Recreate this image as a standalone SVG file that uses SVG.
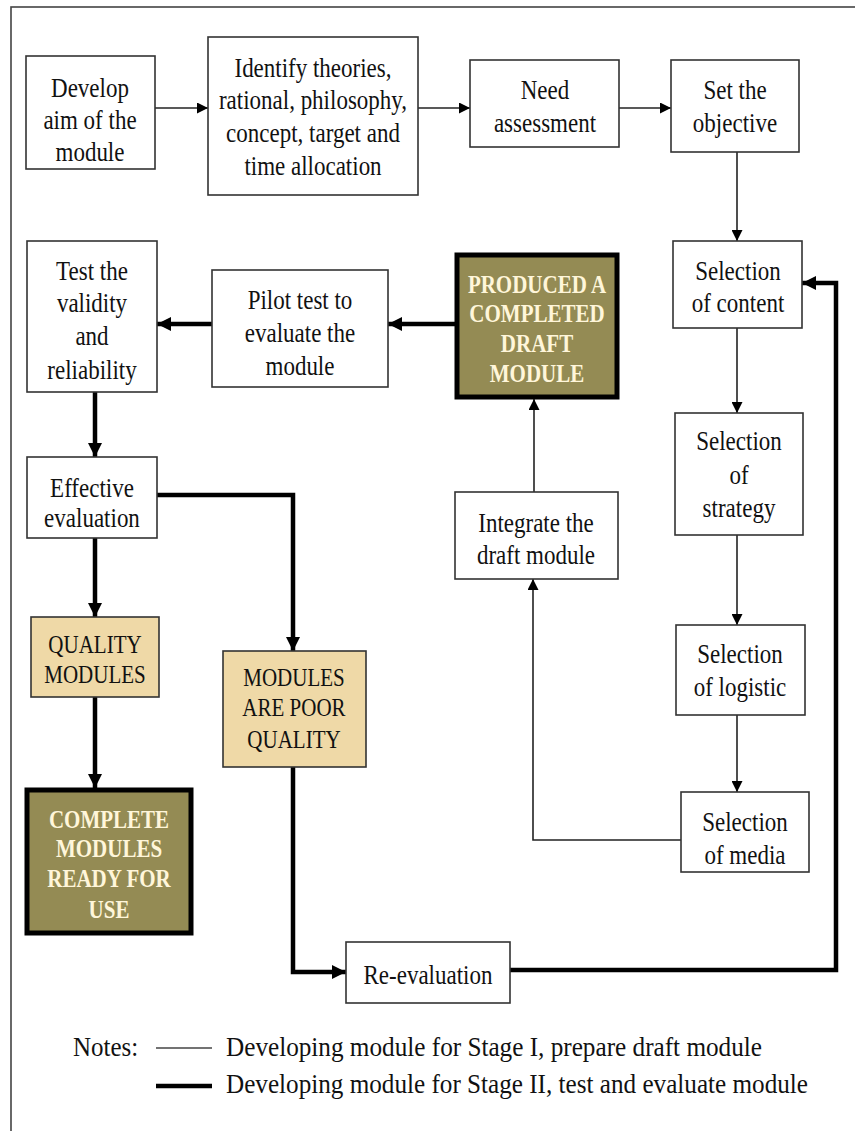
<svg xmlns="http://www.w3.org/2000/svg" width="855" height="1131" viewBox="0 0 855 1131">
<style>
text{font-family:'Liberation Serif','DejaVu Serif',serif;text-anchor:middle;fill:#111;transform-box:fill-box;transform-origin:center;transform:scaleY(1.2);}
.n{font-size:23px;}
.cap{font-size:21px;}
.w{font-size:21px;font-weight:bold;fill:#FFF6DA;}
.box{fill:#fff;stroke:#333;stroke-width:1.6;}
.tan{fill:#EFD9A7;stroke:#333;stroke-width:1.6;}
.olive{fill:#948B54;stroke:#000;stroke-width:5;}
.thin{fill:none;stroke:#222;stroke-width:1.6;marker-end:url(#a1);}
.thick{fill:none;stroke:#000;stroke-width:4.5;marker-end:url(#a2);}
.legend{font-size:25px;text-anchor:start;transform:scaleY(1.12);}
</style>
<defs>
<marker id="a1" viewBox="0 0 10 10" refX="10" refY="5" markerWidth="11" markerHeight="11" markerUnits="userSpaceOnUse" orient="auto"><path d="M0,0 L10,5 L0,10 z" fill="#000"/></marker>
<marker id="a2" viewBox="0 0 12 12" refX="12" refY="6" markerWidth="14" markerHeight="14" markerUnits="userSpaceOnUse" orient="auto"><path d="M0,0 L12,6 L0,12 z" fill="#000"/></marker>
</defs>
<rect width="855" height="1131" fill="#fff"/>
<rect x="11" y="7" width="900" height="1200" fill="none" stroke="#444" stroke-width="1.6"/>

<g id="connectors">
<path class="thin" d="M155,108 H208"/>
<path class="thin" d="M418,108 H470"/>
<path class="thin" d="M619,108 H671"/>
<path class="thin" d="M737,152 V241"/>
<path class="thin" d="M737,328 V413"/>
<path class="thin" d="M737,535 V625"/>
<path class="thin" d="M737,715 V792"/>
<path class="thin" d="M681,840 H533 V579"/>
<path class="thin" d="M534,492 V399"/>
<path class="thick" d="M455,324 H388"/>
<path class="thick" d="M212,324 H157"/>
<path class="thick" d="M95,392 V457"/>
<path class="thick" d="M95,538 V617"/>
<path class="thick" d="M157,495 H293 V651"/>
<path class="thick" d="M95,697 V788"/>
<path class="thick" d="M293,767 V972 H346"/>
<path class="thick" d="M510,970 H836 V283 H802"/>
</g>

<g id="develop"><rect class="box" x="26" y="56" width="129" height="113"/>
<text class="n" x="90" y="95">Develop</text><text class="n" x="90" y="127">aim of the</text><text class="n" x="90" y="159">module</text></g>

<g id="identify"><rect class="box" x="208" y="37" width="210" height="158"/>
<text class="n" x="313" y="75">Identify theories,</text><text class="n" x="313" y="107">rational, philosophy,</text><text class="n" x="313" y="140">concept, target and</text><text class="n" x="313" y="173">time allocation</text></g>

<g id="need"><rect class="box" x="470" y="60" width="149" height="87"/>
<text class="n" x="545" y="97">Need</text><text class="n" x="545" y="130">assessment</text></g>

<g id="objective"><rect class="box" x="671" y="60" width="128" height="92"/>
<text class="n" x="735" y="97">Set the</text><text class="n" x="735" y="130">objective</text></g>

<g id="content"><rect class="box" x="673" y="241" width="129" height="87"/>
<text class="n" x="738" y="278">Selection</text><text class="n" x="738" y="310">of content</text></g>

<g id="strategy"><rect class="box" x="675" y="413" width="128" height="122"/>
<text class="n" x="739" y="448">Selection</text><text class="n" x="739" y="482">of</text><text class="n" x="739" y="515">strategy</text></g>

<g id="logistic"><rect class="box" x="676" y="625" width="129" height="90"/>
<text class="n" x="740" y="661">Selection</text><text class="n" x="740" y="694">of logistic</text></g>

<g id="media"><rect class="box" x="681" y="792" width="128" height="80"/>
<text class="n" x="745" y="829">Selection</text><text class="n" x="745" y="862">of media</text></g>

<g id="integrate"><rect class="box" x="455" y="492" width="163" height="87"/>
<text class="n" x="536" y="530">Integrate the</text><text class="n" x="536" y="562">draft module</text></g>

<g id="produced"><rect class="olive" x="457" y="255" width="160" height="142"/>
<text class="w" x="537" y="292">PRODUCED A</text><text class="w" x="537" y="321">COMPLETED</text><text class="w" x="537" y="351">DRAFT</text><text class="w" x="537" y="381">MODULE</text></g>

<g id="pilot"><rect class="box" x="212" y="270" width="176" height="117"/>
<text class="n" x="300" y="307">Pilot test to</text><text class="n" x="300" y="340">evaluate the</text><text class="n" x="300" y="373">module</text></g>

<g id="validity"><rect class="box" x="27" y="241" width="130" height="151"/>
<text class="n" x="92" y="278">Test the</text><text class="n" x="92" y="310">validity</text><text class="n" x="92" y="343">and</text><text class="n" x="92" y="377">reliability</text></g>

<g id="effective"><rect class="box" x="27" y="457" width="130" height="81"/>
<text class="n" x="92" y="495">Effective</text><text class="n" x="92" y="525">evaluation</text></g>

<g id="quality"><rect class="tan" x="31" y="617" width="128" height="80"/>
<text class="cap" x="95" y="652">QUALITY</text><text class="cap" x="95" y="682">MODULES</text></g>

<g id="poor"><rect class="tan" x="223" y="651" width="143" height="116"/>
<text class="cap" x="294" y="685">MODULES</text><text class="cap" x="294" y="715">ARE POOR</text><text class="cap" x="294" y="747">QUALITY</text></g>

<g id="complete"><rect class="olive" x="27" y="790" width="164" height="143"/>
<text class="w" x="109" y="827">COMPLETE</text><text class="w" x="109" y="856">MODULES</text><text class="w" x="109" y="886">READY FOR</text><text class="w" x="109" y="917">USE</text></g>

<g id="reevaluation"><rect class="box" x="346" y="942" width="164" height="61"/>
<text class="n" x="428" y="982">Re-evaluation</text></g>

<g id="legend">
<text class="legend" x="73" y="1055">Notes:</text>
<line x1="156" y1="1048" x2="212" y2="1048" stroke="#444" stroke-width="1.6"/>
<line x1="156" y1="1086" x2="212" y2="1086" stroke="#000" stroke-width="4.5"/>
<text class="legend" x="226" y="1055" textLength="536" lengthAdjust="spacingAndGlyphs">Developing module for Stage I, prepare draft module</text>
<text class="legend" x="226" y="1092" textLength="582" lengthAdjust="spacingAndGlyphs">Developing module for Stage II, test and evaluate module</text>
</g>
</svg>
